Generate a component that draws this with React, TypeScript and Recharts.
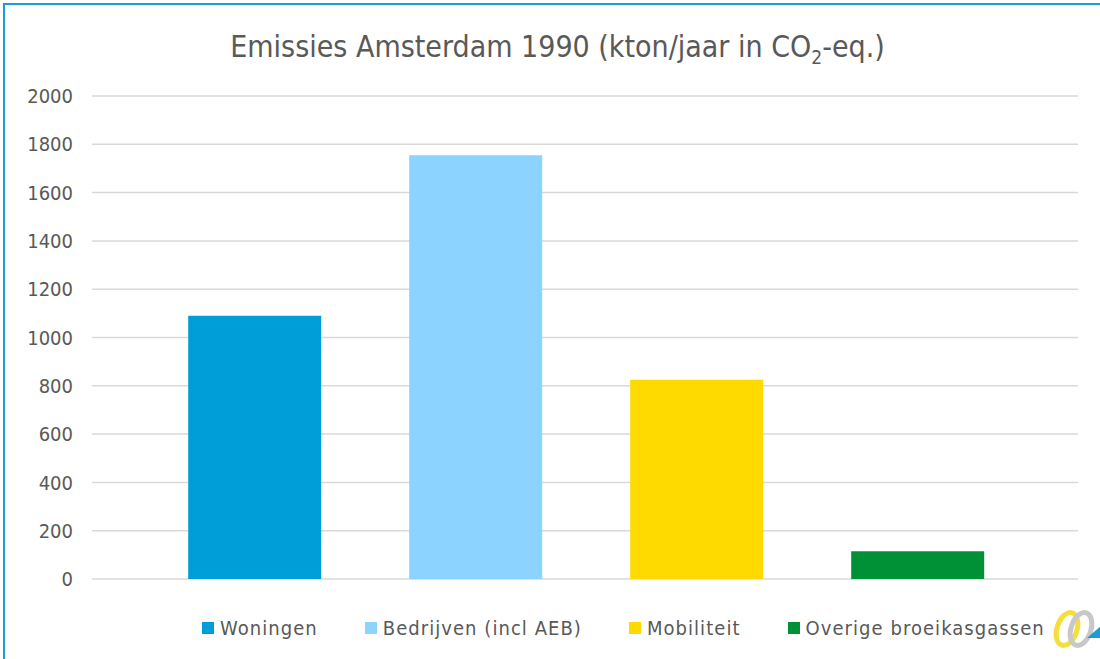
import { BarChart, Bar, Cell, XAxis, YAxis, CartesianGrid } from "recharts";

const categories = ["Woningen", "Bedrijven (incl AEB)", "Mobiliteit", "Overige broeikasgassen"];
const values = [1090, 1755, 825, 115];
const colors = ["#009ed9", "#8dd3ff", "#ffda00", "#009036"];
const yTicks = [0, 200, 400, 600, 800, 1000, 1200, 1400, 1600, 1800, 2000];

const FONT = '"DejaVu Sans Condensed", "DejaVu Sans", sans-serif';
const TEXT = "#595959";
const FRAME = "#1b9bd7";

const data = categories.map((name, i) => ({ name, value: values[i] }));

// little corner logo, partly cut off like in the slide
function Logo() {
  return (
    <svg
      width={60}
      height={44}
      style={{ position: "absolute", left: 1049, top: 608 }}
      aria-hidden
    >
      <ellipse cx={18} cy={21} rx={10} ry={17} fill="none" stroke="#f2df3c" strokeWidth={5} transform="rotate(18 18 21)" />
      <ellipse cx={32} cy={21} rx={10} ry={17} fill="none" stroke="#c8c8c8" strokeWidth={5} transform="rotate(18 32 21)" />
      <polygon points="38,30 52,18 52,30" fill={FRAME} />
    </svg>
  );
}

export default function App() {
  return (
    <div
      style={{
        position: "fixed",
        left: 0,
        top: 0,
        width: 1100,
        height: 659,
        background: "#fff",
        overflow: "hidden",
        fontFamily: FONT,
      }}
    >
      <div
        style={{
          position: "absolute",
          left: 0,
          width: 1115,
          top: 29,
          textAlign: "center",
          fontSize: 30,
          color: TEXT,
          whiteSpace: "nowrap",
        }}
      >
        Emissies Amsterdam 1990 (kton/jaar in CO<sub style={{ fontSize: 19 }}>2</sub>-eq.)
      </div>
      <div style={{ position: "absolute", left: 0, top: 0 }}>
        <BarChart
          width={1100}
          height={659}
          data={data}
          margin={{ top: 96, right: 22, bottom: 80, left: 0 }}
          barCategoryGap="20%"
        >
          <CartesianGrid vertical={false} stroke="#d9d9d9" strokeWidth={1.5} />
          <XAxis dataKey="name" hide padding={{ left: 52, right: 50 }} />
          <YAxis
            width={92}
            domain={[0, 2000]}
            ticks={yTicks}
            interval={0}
            axisLine={false}
            tickLine={false}
            tickMargin={13}
            tick={{ fill: TEXT, fontSize: 20, fontFamily: FONT }}
          />
          <Bar dataKey="value" isAnimationActive={false}>
            {data.map((d, i) => (
              <Cell key={d.name} fill={colors[i]} />
            ))}
          </Bar>
        </BarChart>
      </div>
      <div
        style={{
          position: "absolute",
          left: 202,
          top: 616,
          display: "flex",
          alignItems: "center",
          gap: 47,
          fontSize: 20,
          letterSpacing: 1.05,
          color: TEXT,
          whiteSpace: "nowrap",
        }}
      >
        {categories.map((c, i) => (
          <span key={c} style={{ display: "flex", alignItems: "center", gap: 6 }}>
            <span style={{ width: 12, height: 12, background: colors[i], display: "inline-block" }} />
            {c}
          </span>
        ))}
      </div>
      <Logo />
      <div style={{ position: "absolute", left: 3, top: 3, width: 2, height: 660, background: FRAME, zIndex: 5 }} />
      <div style={{ position: "absolute", left: 3, top: 3, width: 1100, height: 2, background: FRAME, zIndex: 5 }} />
    </div>
  );
}
